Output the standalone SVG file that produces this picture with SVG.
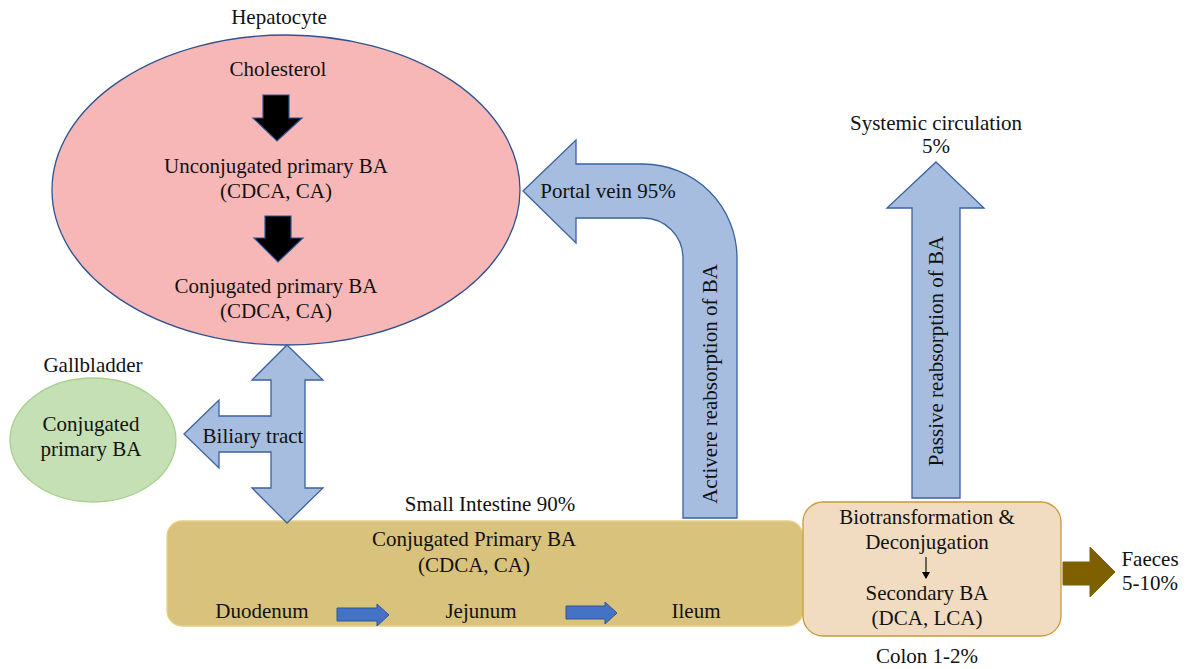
<svg xmlns="http://www.w3.org/2000/svg" width="1186" height="669" viewBox="0 0 1186 669">
<style>
text{font-family:"Liberation Serif","Times New Roman",serif;font-size:21px;fill:#111;text-anchor:middle}
.blue{fill:#A6BDDF;stroke:#3A62A0;stroke-width:1.3}
.small{fill:#4472C4;stroke:#2F5597;stroke-width:1}
.blk{fill:#000;stroke:#2F528F;stroke-width:1.2}
</style>
<defs>
<marker id="ah" markerWidth="8" markerHeight="8" refX="6" refY="4" orient="auto" markerUnits="userSpaceOnUse">
<path d="M0,0 L7,4 L0,8 Z" fill="#000"/>
</marker>
</defs>
<rect width="1186" height="669" fill="#fff"/>

<g id="hepatocyte">
<ellipse cx="286" cy="190" rx="234" ry="155" fill="#F8B7B7" stroke="#2F528F" stroke-width="1.3"/>
<text x="279" y="24">Hepatocyte</text>
<text x="278" y="76">Cholesterol</text>
<polygon class="blk" points="263,95 289,95 289,118 302,118 277,141 253,118 263,118"/>
<text x="276" y="173">Unconjugated primary BA</text>
<text x="276" y="198">(CDCA, CA)</text>
<polygon class="blk" points="265,216 291,216 291,238 303,238 278,262 254,238 265,238"/>
<text x="276" y="293">Conjugated primary BA</text>
<text x="276" y="318">(CDCA, CA)</text>
</g>

<g id="gallbladder">
<text x="93" y="372">Gallbladder</text>
<ellipse cx="93" cy="440" rx="83" ry="62" fill="#C5E0B4" stroke="#A9D18E" stroke-width="1.3"/>
<text x="91" y="431">Conjugated</text>
<text x="91" y="456">primary BA</text>
</g>

<g id="small-intestine">
<text x="490" y="511">Small Intestine 90%</text>
<rect x="167" y="521" width="636" height="105" rx="15" fill="#D9C27B" stroke="#E8D08A" stroke-width="1.3"/>
<text x="474" y="546">Conjugated Primary BA</text>
<text x="474" y="572">(CDCA, CA)</text>
<text x="262" y="618">Duodenum</text>
<text x="481" y="618">Jejunum</text>
<text x="696" y="618">Ileum</text>
</g>

<g id="colon">
<rect x="803" y="502" width="258" height="134" rx="20" fill="#F1DCC2" stroke="#C59A3A" stroke-width="1.3"/>
<text x="927" y="524">Biotransformation &amp;</text>
<text x="927" y="549">Deconjugation</text>
<line x1="926" y1="557" x2="926" y2="578" stroke="#000" stroke-width="1.1" marker-end="url(#ah)"/>
<text x="927" y="600">Secondary BA</text>
<text x="927" y="625">(DCA, LCA)</text>
<text x="927" y="663">Colon 1-2%</text>
</g>

<g id="systemic">
<text x="936" y="130">Systemic circulation</text>
<text x="936" y="153">5%</text>
</g>

<g id="faeces">
<text x="1150" y="566">Faeces</text>
<text x="1150" y="590">5-10%</text>
</g>

<g id="connectors">
<polygon class="blue" points="287,345 323,380 305,380 305,488 323,488 287,523 252,488 271,488 271,452 219,452 219,468 184,434 219,400 219,416 271,416 271,380 252,380"/>
<text x="253" y="443">Biliary tract</text>

<path class="blue" d="M523,191 L576,140 L576,164 L643,164 A94,94 0 0 1 737,258 L737,518 L683,518 L683,258 A40,40 0 0 0 643,218 L576,218 L576,243 Z"/>
<text x="608" y="198">Portal vein 95%</text>
<text transform="translate(717,384) rotate(-90)">Activere reabsorption of BA</text>

<polygon class="blue" points="936,162 984,208 960,208 960,498 912,498 912,208 887,208"/>
<text transform="translate(943,351) rotate(-90)">Passive reabsorption of BA</text>

<polygon class="small" points="337,608 377,608 377,604 389,615 377,626 377,621 337,621"/>
<polygon class="small" points="566,606 605,606 605,602 617,613 605,624 605,619 566,619"/>

<polygon points="1063,562 1090,562 1090,547 1115,572 1090,597 1090,585 1063,585" fill="#7F6000" stroke="#7F6000"/>
</g>
</svg>
